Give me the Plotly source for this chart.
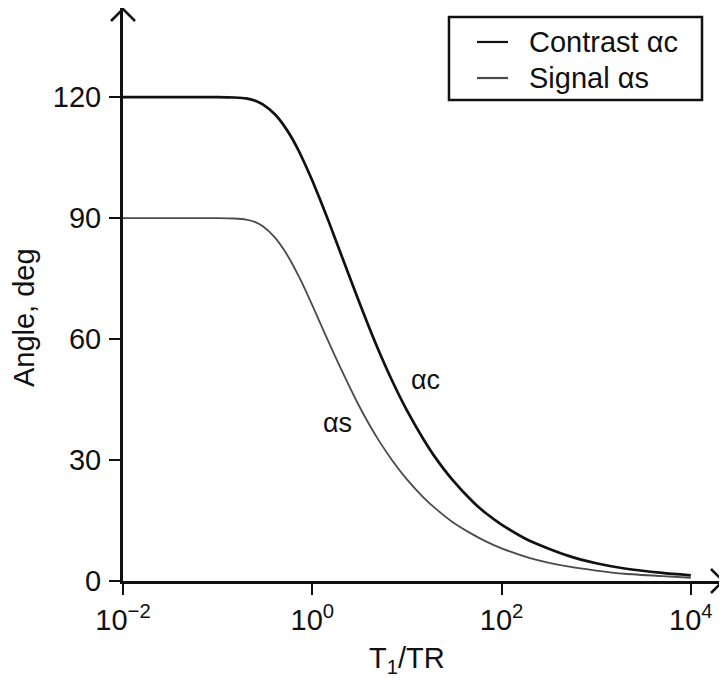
import plotly.graph_objects as go

#====================================================
# DATA
#====================================================

t1_tr = [0.01, 0.03, 0.1, 0.15, 0.2, 0.25, 0.3, 0.4, 0.5, 0.6, 0.7, 0.8,
         1, 1.2, 1.5, 2, 3, 4, 5, 7, 10, 15, 20, 30, 50, 70, 100,
         200, 500, 1000, 2000, 5000, 10000]

contrast_angle = [120, 120, 120, 119.9, 119.7, 119.1, 118.2, 115.8, 113.0,
                  110.1, 107.2, 104.4, 99.3, 94.8, 89.0, 81.2, 70.3, 62.8,
                  57.3, 49.6, 42.3, 35.1, 30.6, 25.2, 19.6, 16.6, 14.0,
                  9.9, 6.3, 4.4, 3.1, 2.0, 1.4]

signal_angle = [90, 90, 90, 89.9, 89.6, 89.0, 88.0, 85.3, 82.2, 79.1, 76.1,
                73.4, 68.4, 64.2, 59.1, 52.7, 44.2, 38.8, 35.0, 29.9, 25.2,
                20.7, 18.0, 14.7, 11.5, 9.7, 8.1, 5.7, 3.6, 2.6, 1.8, 1.2,
                0.8]

series_names = ["Contrast \u03b1c", "Signal \u03b1s"]
series_colors = ["#111111", "#4a4a4a"]

x_tickvals = [1e-2, 1e0, 1e2, 1e4]
x_ticktext = ["10<sup>\u22122</sup>", "10<sup>0</sup>",
              "10<sup>2</sup>", "10<sup>4</sup>"]
y_tickvals = [0, 30, 60, 90, 120]

FONT = "Liberation Sans, Arial, sans-serif"
INK = "#111111"
FS = 29

#====================================================
# FIGURE
#====================================================

fig = go.Figure()

fig.add_trace(go.Scatter(
    x=t1_tr,
    y=contrast_angle,
    mode="lines",
    name=series_names[0],
    showlegend=False,
    line=dict(color=series_colors[0], width=2.7, shape="spline", smoothing=0.6)
))

fig.add_trace(go.Scatter(
    x=t1_tr,
    y=signal_angle,
    mode="lines",
    name=series_names[1],
    showlegend=False,
    line=dict(color=series_colors[1], width=1.8, shape="spline", smoothing=0.6)
))

# curve labels
fig.add_annotation(x=0.265, y=39.2, text="\u03b1s", showarrow=False,
                   font=dict(size=FS - 2, color=INK, family=FONT))
fig.add_annotation(x=1.196, y=49.8, text="\u03b1c", showarrow=False,
                   font=dict(size=FS - 2, color=INK, family=FONT))

# axis titles
fig.add_annotation(x=1.0, y=-0.138, xref="x", yref="paper",
                   text="T<sub>1</sub>/TR", showarrow=False,
                   xanchor="center", yanchor="middle",
                   font=dict(size=FS, color=INK, family=FONT))
fig.add_annotation(x=-0.165, y=65.2, xref="paper", yref="y",
                   text="Angle, deg", showarrow=False, textangle=-90,
                   xanchor="center", yanchor="middle",
                   font=dict(size=FS, color=INK, family=FONT))

# arrow heads at the axis ends
fig.add_shape(type="path", xref="paper", yref="paper",
              xsizemode="pixel", ysizemode="pixel", xanchor=0, yanchor=1,
              path="M-12,-13 L0,-1 L12,-13",
              line=dict(color=INK, width=2.6))
fig.add_shape(type="path", xref="paper", yref="paper",
              xsizemode="pixel", ysizemode="pixel", xanchor=1, yanchor=0,
              path="M-12,12 L0,0 L-12,-12",
              line=dict(color=INK, width=2.6))

# legend box
fig.add_shape(type="rect", xref="paper", yref="paper",
              x0=0.5433, x1=0.965, y0=0.8394, y1=0.9843,
              line=dict(color=INK, width=2.5), fillcolor="white")

legend_rows = [0.9407, 0.8778]
for name, color, ypos in zip(series_names, series_colors, legend_rows):
    fig.add_shape(type="line", xref="paper", yref="paper",
                  x0=0.59, x1=0.6417, y0=ypos, y1=ypos,
                  line=dict(color=color, width=2.2))
    fig.add_annotation(x=0.6733, y=ypos, xref="paper", yref="paper",
                       text=name, showarrow=False,
                       xanchor="left", yanchor="middle",
                       font=dict(size=FS, color=INK, family=FONT))

fig.update_xaxes(
    type="log",
    range=[-2, 4.34],
    tickvals=x_tickvals,
    ticktext=x_ticktext,
    ticks="outside",
    ticklen=11,
    tickwidth=2,
    tickcolor=INK,
    showline=True,
    linecolor=INK,
    linewidth=3,
    showgrid=False,
    zeroline=False,
    automargin=False,
    tickfont=dict(size=FS, color=INK, family=FONT)
)

fig.update_yaxes(
    range=[0, 142.1],
    tickvals=y_tickvals,
    ticks="outside",
    ticklen=11,
    tickwidth=2,
    tickcolor=INK,
    ticklabelstandoff=2,
    showline=True,
    linecolor=INK,
    linewidth=3,
    showgrid=False,
    zeroline=False,
    automargin=False,
    tickfont=dict(size=FS, color=INK, family=FONT)
)

fig.update_layout(
    width=727,
    height=684,
    margin=dict(l=115, r=12, t=0, b=111),
    paper_bgcolor="white",
    plot_bgcolor="white",
    showlegend=False
)

fig.write_html("out.html")
